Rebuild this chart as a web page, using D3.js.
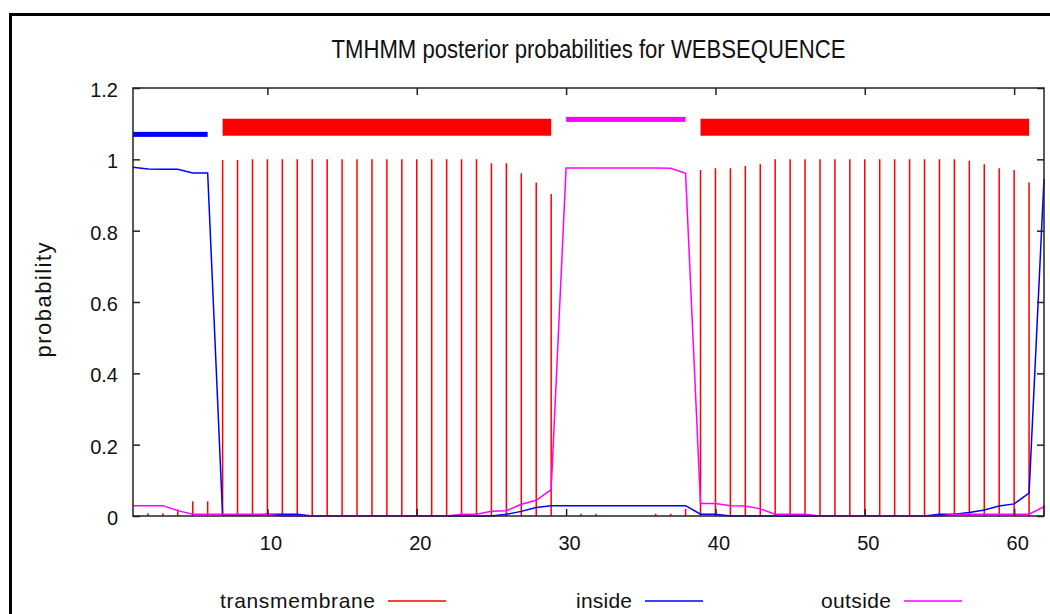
<!DOCTYPE html>
<html lang="en">
<head>
    <meta charset="UTF-8">
    <title>TMHMM posterior probabilities for WEBSEQUENCE</title>
    <script src="https://d3js.org/d3.v7.min.js"></script>
    <style>
        body { margin: 0; background: #fff; }
        svg { display: block; font-family: "Liberation Sans", Arial, sans-serif; }
    </style>
</head>
<body>
<svg width="1050" height="614"></svg>

<script>
    // residue positions and posterior probabilities
    var residues = [1, 2, 3, 4, 5, 6, 7, 8, 9, 10, 11, 12, 13, 14, 15, 16, 17, 18, 19, 20,
        21, 22, 23, 24, 25, 26, 27, 28, 29, 30, 31, 32, 33, 34, 35, 36, 37, 38, 39, 40,
        41, 42, 43, 44, 45, 46, 47, 48, 49, 50, 51, 52, 53, 54, 55, 56, 57, 58, 59, 60, 61, 62];

    var transmembrane = [0, 0.008, 0.008, 0.018, 0.041, 0.041, 0.998, 0.998, 1, 1,
        1, 1, 1, 1, 1, 1, 1, 1, 1, 1,
        1, 1, 1, 1, 0.989, 0.989, 0.961, 0.935, 0.903, 0.003,
        0.006, 0.006, 0, 0, 0, 0.006, 0.006, 0.02, 0.97, 0.975,
        0.975, 0.981, 0.986, 1, 1, 1, 1, 1, 1, 1,
        1, 1, 1, 1, 1, 1, 0.996, 0.986, 0.975, 0.97,
        0.935, 0.03];

    var inside = [0.978, 0.973, 0.972, 0.972, 0.962, 0.962, 0.002, 0.002, 0.002, 0.005,
        0.005, 0.005, 0, 0, 0, 0, 0, 0, 0, 0,
        0, 0, 0, 0, 0, 0.005, 0.013, 0.024, 0.029, 0.029,
        0.029, 0.029, 0.029, 0.029, 0.029, 0.029, 0.029, 0.029, 0.005, 0.005,
        0, 0, 0, 0, 0, 0, 0, 0, 0, 0,
        0, 0, 0, 0, 0.005, 0.005, 0.01, 0.017, 0.028, 0.034,
        0.064, 0.945];

    var outside = [0.029, 0.029, 0.029, 0.015, 0.005, 0.005, 0.005, 0.005, 0.005, 0.005,
        0, 0, 0, 0, 0, 0, 0, 0, 0, 0,
        0, 0, 0.005, 0.005, 0.013, 0.015, 0.033, 0.044, 0.074, 0.976,
        0.976, 0.976, 0.976, 0.976, 0.976, 0.976, 0.975, 0.961, 0.035, 0.035,
        0.029, 0.028, 0.02, 0.005, 0.005, 0.005, 0, 0, 0, 0,
        0, 0, 0, 0, 0, 0.005, 0.005, 0.005, 0.005, 0.005,
        0.005, 0.026];

    // predicted topology
    var segStart = [1, 7, 30, 39];
    var segEnd = [6, 29, 38, 61];
    var segType = ["inside", "transmembrane", "outside", "transmembrane"];

    var xTicks = [10, 20, 30, 40, 50, 60];
    var yTicks = [0, 0.2, 0.4, 0.6, 0.8, 1, 1.2];
    var yTickLabels = ["0", "0.2", "0.4", "0.6", "0.8", "1", "1.2"];
    var legendLabels = ["transmembrane", "inside", "outside"];

    var colors = {transmembrane: "#ff0000", inside: "#0000ff", outside: "#ff00ff"};
    var barLevel = {transmembrane: 1.09, inside: 1.07, outside: 1.112};
    var barWidth = {transmembrane: 17, inside: 5, outside: 5};

    var svg = d3.select("svg");

    var x = d3.scaleLinear().domain([1, 62]).range([133, 1044]);
    var y = d3.scaleLinear().domain([0, 1.2]).range([516, 88]);

    // outer frame (cut off at right and bottom)
    svg.append("rect")
        .attr("x", 10.5).attr("y", 14.5)
        .attr("width", 1100).attr("height", 700)
        .attr("fill", "none")
        .attr("stroke", "#000")
        .attr("stroke-width", 3);

    svg.append("text")
        .attr("x", 588.5).attr("y", 58)
        .attr("text-anchor", "middle")
        .attr("font-size", 25)
        .attr("textLength", 514)
        .attr("lengthAdjust", "spacingAndGlyphs")
        .attr("fill", "#111")
        .text("TMHMM posterior probabilities for WEBSEQUENCE");

    svg.append("text")
        .attr("transform", "translate(51,300) rotate(-90)")
        .attr("text-anchor", "middle")
        .attr("font-size", 22)
        .attr("textLength", 115)
        .attr("lengthAdjust", "spacing")
        .attr("fill", "#111")
        .text("probability");

    // transmembrane impulses
    svg.append("g")
        .selectAll("line")
        .data(residues.filter(function (d, i) { return transmembrane[i] > 0; }))
        .enter().append("line")
        .attr("x1", function (d) { return x(d); })
        .attr("x2", function (d) { return x(d); })
        .attr("y1", y(0))
        .attr("y2", function (d) { return y(transmembrane[d - 1]); })
        .attr("stroke", colors.transmembrane)
        .attr("stroke-width", 1.5);

    var line = d3.line()
        .x(function (d, i) { return x(residues[i]); })
        .y(function (d) { return y(d); });

    svg.append("path")
        .datum(inside)
        .attr("d", line)
        .attr("fill", "none")
        .attr("stroke", colors.inside)
        .attr("stroke-width", 1.5);

    svg.append("path")
        .datum(outside)
        .attr("d", line)
        .attr("fill", "none")
        .attr("stroke", colors.outside)
        .attr("stroke-width", 1.5);

    // topology bars
    svg.append("g")
        .selectAll("rect")
        .data(segType)
        .enter().append("rect")
        .attr("x", function (d, i) { return x(segStart[i]); })
        .attr("width", function (d, i) { return x(segEnd[i]) - x(segStart[i]); })
        .attr("y", function (d) { return y(barLevel[d]) - barWidth[d] / 2; })
        .attr("height", function (d) { return barWidth[d]; })
        .attr("fill", function (d) { return colors[d]; });

    // axes, ticks pointing inward
    var axisLeft = svg.append("g")
        .attr("transform", "translate(" + x(1) + ",0)")
        .call(d3.axisLeft(y).tickValues(yTicks).tickSize(-7).tickPadding(15)
            .tickFormat(function (d, i) { return yTickLabels[i]; }));
    axisLeft.selectAll("text").attr("dy", "0.42em");

    svg.append("g")
        .attr("transform", "translate(" + x(62) + ",0)")
        .call(d3.axisRight(y).tickValues(yTicks).tickSize(-7).tickFormat(""));

    var axisBottom = svg.append("g")
        .attr("transform", "translate(0," + y(0) + ")")
        .call(d3.axisBottom(x).tickValues(xTicks).tickSize(-7).tickPadding(20));
    axisBottom.selectAll("text").attr("dx", 3);

    svg.append("g")
        .attr("transform", "translate(0," + y(1.2) + ")")
        .call(d3.axisTop(x).tickValues(xTicks).tickSize(-7).tickFormat(""));

    svg.selectAll(".domain").remove();
    svg.selectAll(".tick line").attr("stroke", "#222").attr("stroke-width", 1.5);
    svg.selectAll(".tick text")
        .attr("font-family", "Liberation Sans, Arial, sans-serif")
        .attr("font-size", 20)
        .attr("fill", "#111");

    svg.append("rect")
        .attr("x", x(1)).attr("y", y(1.2))
        .attr("width", x(62) - x(1)).attr("height", y(0) - y(1.2))
        .attr("fill", "none")
        .attr("stroke", "#222")
        .attr("stroke-width", 1.5);

    // legend
    var legendEnd = [375, 632, 891];
    var legendWidth = [155, 56, 70];
    var legend = svg.append("g")
        .selectAll("g")
        .data(legendLabels)
        .enter().append("g");

    legend.append("text")
        .attr("x", function (d, i) { return legendEnd[i]; })
        .attr("y", 608)
        .attr("text-anchor", "end")
        .attr("font-size", 21)
        .attr("textLength", function (d, i) { return legendWidth[i]; })
        .attr("lengthAdjust", "spacing")
        .attr("fill", "#111")
        .text(function (d) { return d; });

    legend.append("line")
        .attr("x1", function (d, i) { return legendEnd[i] + 13; })
        .attr("x2", function (d, i) { return legendEnd[i] + 71; })
        .attr("y1", 601)
        .attr("y2", 601)
        .attr("stroke", function (d) { return colors[d]; })
        .attr("stroke-width", 1.5);
</script>

</body>
</html>
